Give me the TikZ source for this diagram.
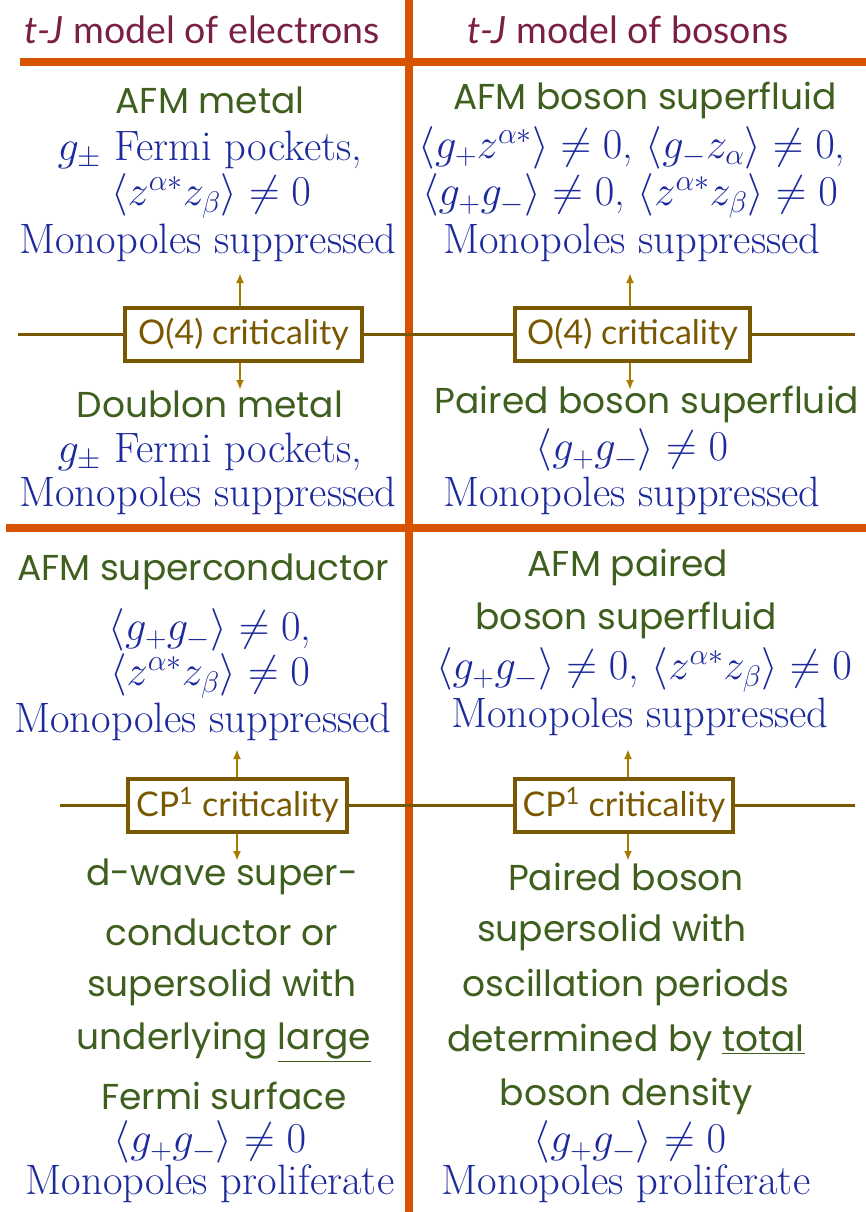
\RequirePackage{fix-cm}
\documentclass[tikz,border=0pt]{standalone}
\usepackage{fontspec}
\newfontfamily\hdrfont{Lato}
\newfontfamily\greenfont{Poppins}
\usetikzlibrary{arrows.meta}
\definecolor{orng}{HTML}{D75300}
\definecolor{maroon}{HTML}{7A1F45}
\definecolor{grn}{HTML}{3F5F1F}
\definecolor{blu}{HTML}{1C2A9C}
\definecolor{brwn}{HTML}{7A5800}
\definecolor{gold}{HTML}{A67C00}
\tikzset{
  hdr/.style={text=maroon, font=\hdrfont\fontsize{37.5}{42}\selectfont, inner sep=0pt},
  phase/.style={text=grn, font=\greenfont\fontsize{36}{40}\selectfont, inner sep=0pt},
  info/.style={text=blu, font=\fontsize{42.5}{48}\selectfont, inner sep=0pt},
  crit/.style={draw=brwn, line width=4pt, fill=white, text=brwn, font=\hdrfont\fontsize{34}{38}\selectfont, minimum height=53pt, inner sep=0pt},
  axis/.style={draw=brwn, line width=3pt},
  arr/.style={draw=gold, line width=2.2pt, -{Latex[length=10pt,width=8pt]}},
  sep/.style={draw=orng, line width=8pt}
}
\begin{document}
\begin{tikzpicture}[x=1pt,y=-1pt]
\useasboundingbox (0,0) rectangle (866,1212);
% separators
\coordinate (vt) at (409,0);
\coordinate (vb) at (409,1212);
\coordinate (h1l) at (20,62);
\coordinate (h1r) at (866,62);
\coordinate (h2l) at (6,528);
\coordinate (h2r) at (866,528);
\draw[sep] (vt) -- (vb);
\draw[sep] (h1l) -- (h1r);
\draw[sep] (h2l) -- (h2r);
% headers
\node[hdr] (he) at (202,30) {\itshape t-J\/\upshape{} model of electrons};
\node[hdr] (hb) at (628,30) {\itshape t-J\/\upshape{} model of bosons};
% top-left
\node[phase] (afmm) at (210,100) {AFM metal};
\node[info] (tl1) at (210,150) {$g_\pm$ Fermi pockets,};
\node[info] (tl2) at (211,196) {$\langle z^{\alpha *} z_\beta\rangle \neq 0$};
\node[info] (tl3) at (208,243) {Monopoles suppressed};
\node[crit, minimum width=237pt] (c1) at (243.5,334.5) {O(4) criticality};
\node[phase] (dbm) at (210,404) {Doublon metal};
\node[info] (tl4) at (210,452) {$g_\pm$ Fermi pockets,};
\node[info] (tl5) at (208,496) {Monopoles suppressed};
% top-right
\node[phase] (afmb) at (645,100) {AFM boson superfluid};
\node[info] (tr1) at (632,148) {$\langle g_+ z^{\alpha *}\rangle \neq 0$, $\langle g_- z_\alpha\rangle \neq 0$,};
\node[info] (tr2) at (630,196) {$\langle g_+ g_-\rangle \neq 0$, $\langle z^{\alpha *} z_\beta\rangle \neq 0$};
\node[info] (tr3) at (632,243) {Monopoles suppressed};
\node[crit, minimum width=235pt] (c2) at (632.5,334.5) {O(4) criticality};
\node[phase] (pbs) at (647,404) {Paired boson superfluid};
\node[info] (tr4) at (632,450) {$\langle g_+ g_-\rangle \neq 0$};
\node[info] (tr5) at (632,496) {Monopoles suppressed};
% bottom-left
\node[phase] (afms) at (203,572) {AFM superconductor};
\node[info] (bl1) at (210,630) {$\langle g_+ g_-\rangle \neq 0$,};
\node[info] (bl2) at (210,676) {$\langle z^{\alpha *} z_\beta\rangle \neq 0$};
\node[info] (bl3) at (203,722) {Monopoles suppressed};
\node[crit, minimum width=219pt] (c3) at (237.5,805) {CP\textsuperscript{1} criticality};
\node[phase] (dw1) at (222,877) {d-wave super-};
\node[phase] (dw2) at (222,932) {conductor or};
\node[phase] (dw3) at (222,987) {supersolid with};
\node[phase] (dw4) at (224,1042) {underlying \underline{large}};
\node[phase] (dw5) at (224,1096) {Fermi surface};
\node[info] (bl4) at (210,1142) {$\langle g_+ g_-\rangle \neq 0$};
\node[info] (bl5) at (210,1184) {Monopoles proliferate};
% bottom-right
\node[phase] (apb1) at (628,567) {AFM paired};
\node[phase] (apb2) at (626,620) {boson superfluid};
\node[info] (br1) at (644,670) {$\langle g_+ g_-\rangle \neq 0$, $\langle z^{\alpha *} z_\beta\rangle \neq 0$};
\node[info] (br2) at (640,717) {Monopoles suppressed};
\node[crit, minimum width=218pt] (c4) at (624,805) {CP\textsuperscript{1} criticality};
\node[phase] (ps1) at (626,877) {Paired boson};
\node[phase] (ps2) at (612,932) {supersolid with};
\node[phase] (ps3) at (626,987) {oscillation periods};
\node[phase] (ps4) at (626,1042) {determined by \underline{total}};
\node[phase] (ps5) at (626,1096) {boson density};
\node[info] (br3) at (630,1142) {$\langle g_+ g_-\rangle \neq 0$};
\node[info] (br4) at (626,1184) {Monopoles proliferate};
% axes
\coordinate (a1l) at (18,334.5);
\coordinate (a1r) at (855,334.5);
\coordinate (a2l) at (60,805);
\coordinate (a2r) at (855,805);
\draw[axis] (a1l) -- (c1.west);
\draw[axis] (c1.east) -- (c2.west);
\draw[axis] (c2.east) -- (a1r);
\draw[axis] (a2l) -- (c3.west);
\draw[axis] (c3.east) -- (c4.west);
\draw[axis] (c4.east) -- (a2r);
% arrows
\coordinate (u1) at (240,273);
\coordinate (d1) at (240,390);
\coordinate (u2) at (630,273);
\coordinate (d2) at (630,390);
\coordinate (u3) at (237,749);
\coordinate (d3) at (237,861);
\coordinate (u4) at (628,749);
\coordinate (d4) at (628,861);
\draw[arr] (c1.north -| u1) -- (u1);
\draw[arr] (c1.south -| d1) -- (d1);
\draw[arr] (c2.north -| u2) -- (u2);
\draw[arr] (c2.south -| d2) -- (d2);
\draw[arr] (c3.north -| u3) -- (u3);
\draw[arr] (c3.south -| d3) -- (d3);
\draw[arr] (c4.north -| u4) -- (u4);
\draw[arr] (c4.south -| d4) -- (d4);
\end{tikzpicture}
\end{document}
